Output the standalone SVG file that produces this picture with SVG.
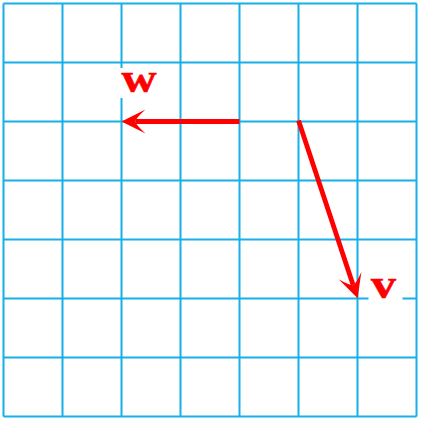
<svg xmlns="http://www.w3.org/2000/svg" width="425" height="425" viewBox="0 0 425 425">
<style>
.grid line{stroke:#16b0e8;stroke-width:2}
.vec{stroke:#ff0000;stroke-width:4.8;fill:none;stroke-linecap:butt}
.head{fill:#ff0000}
.lbl{font-family:"Liberation Serif","Times New Roman",serif;font-weight:bold;font-size:41px;fill:#ff0000;stroke:#ff0000;stroke-width:0.6;text-anchor:middle}
.bg{fill:#ffffff}
</style>
<defs>
<path id="ah" d="M0,0 L-24,-12 Q-14,-3 -14,0 Q-14,3 -24,12 Z"/>
</defs>
<rect width="425" height="425" fill="#ffffff"/>
<g class="grid">
<line x1="3.5" y1="3.5" x2="3.5" y2="416.5"/>
<line x1="62.5" y1="3.5" x2="62.5" y2="416.5"/>
<line x1="121.5" y1="3.5" x2="121.5" y2="416.5"/>
<line x1="180.5" y1="3.5" x2="180.5" y2="416.5"/>
<line x1="239.5" y1="3.5" x2="239.5" y2="416.5"/>
<line x1="298.5" y1="3.5" x2="298.5" y2="416.5"/>
<line x1="357.5" y1="3.5" x2="357.5" y2="416.5"/>
<line x1="416.5" y1="3.5" x2="416.5" y2="416.5"/>
<line x1="3.5" y1="3.5" x2="416.5" y2="3.5"/>
<line x1="3.5" y1="62.5" x2="416.5" y2="62.5"/>
<line x1="3.5" y1="121.5" x2="416.5" y2="121.5"/>
<line x1="3.5" y1="180.5" x2="416.5" y2="180.5"/>
<line x1="3.5" y1="239.5" x2="416.5" y2="239.5"/>
<line x1="3.5" y1="298.5" x2="416.5" y2="298.5"/>
<line x1="3.5" y1="357.5" x2="416.5" y2="357.5"/>
<line x1="3.5" y1="416.5" x2="416.5" y2="416.5"/>
</g>
<g id="connectors">
<g id="vec-w">
<line class="vec" x1="239.5" y1="121.5" x2="136" y2="121.5"/>
<use href="#ah" class="head" transform="translate(121.5,121.5) rotate(180)"/>
</g>
<g id="vec-v">
<line class="vec" x1="298.5" y1="120.5" x2="353.1" y2="285"/>
<use href="#ah" class="head" transform="translate(357.6,298.3) rotate(71.57)"/>
</g>
</g>
<g id="label-w">
<rect class="bg" x="108" y="68" width="62" height="30"/>
<text class="lbl" x="139" y="92" textLength="35" lengthAdjust="spacingAndGlyphs">w</text>
</g>
<g id="label-v">
<rect class="bg" x="368.5" y="276" width="34" height="26"/>
<text class="lbl" x="383.5" y="297.5" textLength="25" lengthAdjust="spacingAndGlyphs">v</text>
</g>
</svg>
